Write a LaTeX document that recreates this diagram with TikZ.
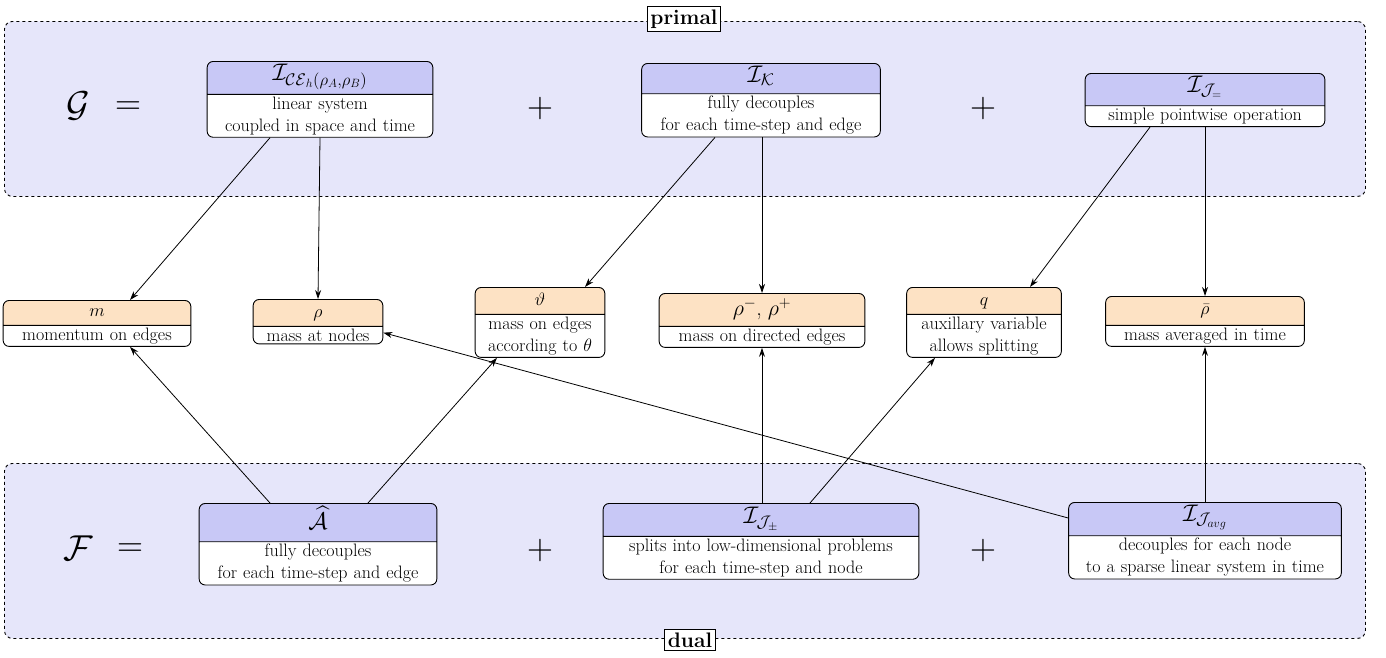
\RequirePackage{fix-cm}
\documentclass[tikz,border=0pt]{standalone}
\usepackage{amsmath,amssymb}
\usetikzlibrary{shapes.multipart,calc,arrows.meta}
\definecolor{panel}{HTML}{E6E6FA}
\definecolor{hdr}{HTML}{C8C8F6}
\definecolor{org}{HTML}{FDE2C4}
\newcommand{\hdrtxt}[3]{\rule[-#2]{0pt}{#1}{\fontsize{24}{28}\selectfont$#3$}}
\tikzset{
 box/.style={rectangle split, rectangle split parts=2, draw, rounded corners=6pt, line width=0.9pt,
   rectangle split part fill={#1,white}, align=center, anchor=north, inner ysep=2pt,
   font=\fontsize{18}{22}\selectfont},
 pan/.style={draw, dashed, line width=0.9pt, fill=panel, rounded corners=8pt},
 lab/.style={draw, fill=white, line width=0.9pt, font=\fontsize{21}{24}\selectfont\bfseries, inner sep=3pt},
 arr/.style={-{Stealth[length=9pt,width=6pt]}, line width=0.8pt},
 big/.style={font=\fontsize{36}{40}\selectfont}
}
\begin{document}
\begin{tikzpicture}[x=1pt,y=-1pt]
\useasboundingbox (0,0) rectangle (1386,657);
\node[pan, minimum width=1361pt, minimum height=175pt, anchor=north west] (P) at (4,21) {};
\node[pan, minimum width=1361pt, minimum height=175pt, anchor=north west] (D) at (4,463) {};
\node[lab] (pl) at (684,19) {primal};
\node[lab] (dl) at (690,640) {dual};

\node[big] (G) at (78,106) {$\mathcal{G}$};
\node[big] (eq1) at (128,108) {$=$};
\node[big] (p1) at (540,108) {$+$};
\node[big] (p2) at (983,108) {$+$};
\node[big] (F) at (78,548) {$\mathcal{F}$};
\node[big] (eq2) at (130,550) {$=$};
\node[big] (p3) at (540,550) {$+$};
\node[big] (p4) at (983,550) {$+$};

% primal boxes
\node[box=hdr, text width=219pt] (ice) at (320,61)
 {\hdrtxt{28pt}{11pt}{\mathcal{I}_{\mathcal{CE}_h(\rho_A,\rho_B)}}
  \nodepart{two} linear system\\coupled in space and time};
\node[box=hdr, text width=232pt] (ik) at (761,63)
 {\hdrtxt{25pt}{9pt}{\mathcal{I}_{\mathcal{K}}}
  \nodepart{two} fully decouples\\for each time-step and edge};
\node[box=hdr, text width=233pt] (ij) at (1205,73)
 {\hdrtxt{27pt}{11pt}{\mathcal{I}_{\mathcal{J}_=}}
  \nodepart{two} simple pointwise operation};

% middle
\node[box=org, text width=181pt] (m) at (97,300) {\rule[-6pt]{0pt}{20pt}$m$\nodepart{two} momentum on edges};
\node[box=org, text width=123pt] (r) at (318,299) {\rule[-6pt]{0pt}{22pt}$\rho$\nodepart{two} mass at nodes};
\node[box=org, text width=123pt] (th) at (540,287) {\rule[-6pt]{0pt}{22pt}$\vartheta$\nodepart{two} mass on edges\\according to $\theta$};
\node[box=org, text width=199pt] (rpm) at (762,293) {\rule[-8pt]{0pt}{28pt}{\fontsize{22}{24}\selectfont$\rho^-$, $\rho^+$}\nodepart{two} mass on directed edges};
\node[box=org, text width=148pt] (q) at (984,287) {\rule[-6pt]{0pt}{22pt}$q$\nodepart{two} auxillary variable\\allows splitting};
\node[box=org, text width=192pt] (rb) at (1205,296) {\rule[-8pt]{0pt}{24pt}$\bar\rho$\nodepart{two} mass averaged in time};

% dual boxes
\node[box=hdr, text width=231pt] (A) at (318,503)
 {\hdrtxt{28pt}{10pt}{\widehat{\mathcal{A}}}
  \nodepart{two} fully decouples\\for each time-step and edge};
\node[box=hdr, text width=309pt] (ipm) at (761,503)
 {\hdrtxt{28pt}{10pt}{\mathcal{I}_{\mathcal{J}_\pm}}
  \nodepart{two} splits into low-dimensional problems\\for each time-step and node};
\node[box=hdr, text width=266pt] (iavg) at (1205,502)
 {\hdrtxt{28pt}{12pt}{\mathcal{I}_{\mathcal{J}_{avg}}}
  \nodepart{two} decouples for each node\\to a sparse linear system in time};

% arrows
\draw[arr] ([xshift=-50pt]ice.south) -- ([xshift=33pt]m.north);
\draw[arr] (ice.south) -- (r.north);
\draw[arr] ([xshift=-46pt]ik.south) -- ([xshift=45pt]th.north);
\draw[arr] ([xshift=1pt]ik.south) -- (rpm.north);
\draw[arr] ([xshift=-55pt]ij.south) -- ([xshift=46pt]q.north);
\draw[arr] (ij.south) -- (rb.north);

\draw[arr] ([xshift=-48pt]A.north) -- ([xshift=33pt]m.south);
\draw[arr] ([xshift=50pt]A.north) -- ([xshift=-43pt]th.south);
\draw[arr] ([xshift=1pt]ipm.north) -- (rpm.south);
\draw[arr] ([xshift=49pt]ipm.north) -- ([xshift=-49pt]q.south);
\draw[arr] (iavg.north) -- (rb.south);
\draw[arr] ([yshift=-16pt]iavg.north west) -- ([yshift=-11pt]r.east);
\end{tikzpicture}
\end{document}
